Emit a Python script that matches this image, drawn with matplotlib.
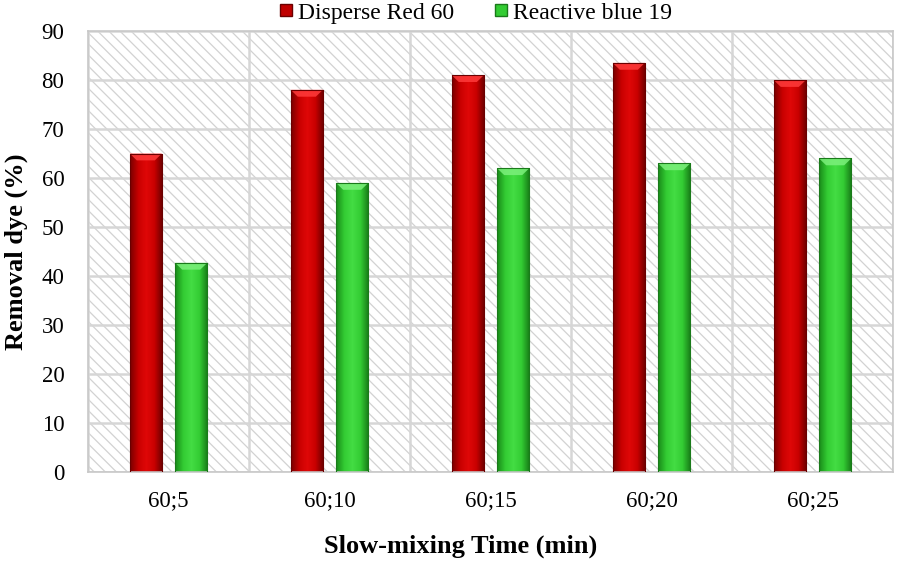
import matplotlib
matplotlib.use("Agg")
import matplotlib.pyplot as plt
import numpy as np
from matplotlib.patches import Rectangle, Polygon
from matplotlib.colors import LinearSegmentedColormap
from matplotlib.lines import Line2D

categories = ["60;5", "60;10", "60;15", "60;20", "60;25"]
disperse_red = [65, 78, 81, 83.5, 80]
reactive_blue = [42.7, 59, 62, 63, 64]
series_names = ["Disperse Red 60", "Reactive blue 19"]
yticks = [0, 10, 20, 30, 40, 50, 60, 70, 80, 90]

plt.rcParams['font.family'] = ['Liberation Serif', 'DejaVu Serif']
plt.rcParams['hatch.linewidth'] = 0.9

fig = plt.figure(figsize=(8.98, 5.61), dpi=100)
ax = fig.add_axes([0.098, 0.1586, 0.8964, 0.7861])

x = np.arange(len(categories))
ax.set_xlim(-0.5, len(categories) - 0.5)
ax.set_ylim(0, 90)

# hatched background
bg = Rectangle((0, 0), 1, 1, transform=ax.transAxes, facecolor='white',
               edgecolor='#d2d2d2', hatch='\\\\\\', linewidth=0, zorder=0)
ax.add_patch(bg)

# grid
for yv in yticks:
    ax.axhline(yv, color='#d6d6d6', lw=1.8, zorder=1)
for xv in np.arange(-0.5, len(categories), 1):
    ax.axvline(xv, color='#d6d6d6', lw=1.8, zorder=1)

cm_red = LinearSegmentedColormap.from_list('r', ['#7a0000', '#c80000', '#e00808', '#c80000', '#6a0000'])
cm_green = LinearSegmentedColormap.from_list('g', ['#1a8a1a', '#33cc33', '#44dd44', '#33cc33', '#177a17'])
grad = np.linspace(0, 1, 64).reshape(1, -1)

width = 0.2
offset = 0.141

def draw_bars(xs, vals, cmap, cap_color, edge):
    bars = ax.bar(xs, vals, width=width, color='none', edgecolor=edge, linewidth=0.8, zorder=3)
    for b in bars:
        x0, y0 = b.get_x(), b.get_y()
        w, h = b.get_width(), b.get_height()
        im = ax.imshow(grad, cmap=cmap, aspect='auto', extent=[x0, x0 + w, y0, y0 + h],
                       zorder=2.5, interpolation='bilinear')
        im.set_clip_path(b)
        capd = 1.4
        ax.add_patch(Polygon([[x0, y0 + h], [x0 + w, y0 + h], [x0 + w * 0.78, y0 + h - capd],
                              [x0 + w * 0.22, y0 + h - capd]], closed=True,
                             facecolor=cap_color, edgecolor='none', alpha=0.85, zorder=2.8))
    return bars

draw_bars(x - offset, disperse_red, cm_red, '#ff3b3b', '#6a0000')
draw_bars(x + offset, reactive_blue, cm_green, '#7cf07c', '#1a7a1a')

ax.set_xticks(x)
ax.set_xticklabels(categories, fontsize=16.5)
ax.set_yticks(yticks)
ax.set_yticklabels([str(v) for v in yticks], fontsize=16.5)
ax.tick_params(axis='y', length=0, pad=17)
ax.tick_params(axis='x', length=0, pad=13)
for s in ax.spines.values():
    s.set_color('#c8c8c8')
    s.set_linewidth(1.2)

ax.set_xlabel("Slow-mixing Time (min)", fontsize=19, fontweight='bold', labelpad=16)
ax.xaxis.set_label_coords(0.463, -0.142)
ax.set_ylabel("Removal dye (%)", fontsize=19, fontweight='bold', labelpad=10)

handles = [Line2D([], [], marker='s', linestyle='none', markersize=8, markerfacecolor='#c00000',
                  markeredgecolor='#6a0000'),
           Line2D([], [], marker='s', linestyle='none', markersize=8, markerfacecolor='#33cc33',
                  markeredgecolor='#1a7a1a')]
fig.legend(handles, series_names, loc='center', bbox_to_anchor=(0.527, 0.977), ncol=2,
           frameon=False, fontsize=17, handletextpad=0.0, columnspacing=1.5, handlelength=1.0)

fig.savefig("out.png", dpi=100)
